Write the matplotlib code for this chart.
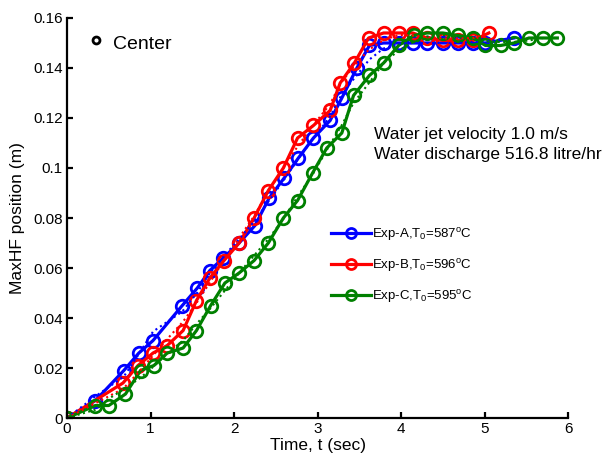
import numpy as np
import matplotlib
matplotlib.use("Agg")
import matplotlib.pyplot as plt

plt.rcParams['font.family'] = ['Liberation Sans', 'DejaVu Sans']
plt.rcParams['mathtext.fontset'] = 'custom'
plt.rcParams['mathtext.rm'] = 'Liberation Sans'
plt.rcParams['mathtext.it'] = 'Liberation Sans'

# Experiment A
t_a = [0, 0.34, 0.68, 0.86, 1.03, 1.38, 1.56, 1.71, 1.87, 2.06, 2.25, 2.42, 2.60,
       2.77, 2.95, 3.15, 3.29, 3.47, 3.62, 3.79, 3.97, 4.14, 4.31, 4.50, 4.68, 4.86,
       5.01, 5.35]
y_a = [0, 0.007, 0.019, 0.026, 0.031, 0.045, 0.052, 0.059, 0.064, 0.070, 0.077,
       0.088, 0.096, 0.104, 0.112, 0.119, 0.128, 0.140, 0.149, 0.150, 0.150, 0.150,
       0.150, 0.150, 0.150, 0.150, 0.150, 0.152]

# Experiment B
t_b = [0, 0.67, 0.85, 1.03, 1.20, 1.39, 1.55, 1.71, 1.88, 2.06, 2.24, 2.41, 2.59,
       2.76, 2.95, 3.15, 3.27, 3.44, 3.61, 3.79, 3.97, 4.14, 4.31, 4.50, 4.68, 4.86,
       5.05]
y_b = [0, 0.014, 0.021, 0.026, 0.029, 0.035, 0.047, 0.056, 0.063, 0.070, 0.080,
       0.091, 0.100, 0.112, 0.117, 0.123, 0.134, 0.142, 0.152, 0.154, 0.154, 0.154,
       0.152, 0.151, 0.151, 0.151, 0.154]

# Experiment C
t_c = [0, 0.34, 0.50, 0.70, 0.88, 1.04, 1.20, 1.39, 1.55, 1.72, 1.89, 2.06, 2.24,
       2.41, 2.59, 2.76, 2.94, 3.11, 3.29, 3.43, 3.62, 3.79, 3.97, 4.15, 4.31, 4.50,
       4.68, 4.86, 5.01, 5.19, 5.35, 5.53, 5.70, 5.87]
y_c = [0, 0.005, 0.005, 0.0096, 0.019, 0.021, 0.026, 0.028, 0.035, 0.045, 0.054,
       0.058, 0.063, 0.070, 0.080, 0.087, 0.098, 0.108, 0.114, 0.129, 0.137, 0.142,
       0.149, 0.153, 0.154, 0.154, 0.153, 0.152, 0.149, 0.149, 0.150, 0.152, 0.152,
       0.152]

labels = [r'Exp-A,T$_0$=587$^\mathrm{o}$C',
          r'Exp-B,T$_0$=596$^\mathrm{o}$C',
          r'Exp-C,T$_0$=595$^\mathrm{o}$C']
colors = ['#0000ff', '#ff0000', '#008000']


def smooth(y, k=2):
    """Centred running mean whose window narrows towards the ends."""
    y = np.asarray(y, float)
    n = len(y)
    out = np.empty(n)
    for i in range(n):
        h = min(k, i, n - 1 - i)
        out[i] = y[i - h:i + h + 1].mean()
    return out


fig = plt.figure(figsize=(6.06, 4.59), dpi=100)
ax = fig.add_axes([0.1106, 0.0893, 0.827, 0.8715])

series = [(t_a, y_a), (t_b, y_b), (t_c, y_c)]
for (t, y), c, lab in zip(series, colors, labels):
    ax.plot(t, y, '-o', color=c, lw=2.3, ms=9, mew=2.0, mfc='none', label=lab)
for (t, y), c in zip(series, colors):
    ax.plot(t, smooth(y), ':', color=c, lw=1.5)

ax.set_xlim(0, 6)
ax.set_ylim(0, 0.16)
ax.set_xticks(np.arange(0, 7, 1))
ax.set_yticks(np.arange(0, 0.161, 0.02))
ax.set_xticklabels(['0', '1', '2', '3', '4', '5', '6'])
ax.set_yticklabels(['0', '0.02', '0.04', '0.06', '0.08', '0.1', '0.12', '0.14', '0.16'])
for s in ['top', 'right']:
    ax.spines[s].set_visible(False)
for s in ['left', 'bottom']:
    ax.spines[s].set_linewidth(1.6)
ax.tick_params(direction='in', length=4, width=1.6, labelsize=11, pad=3)
ax.set_xlabel('Time, t (sec)', fontsize=12.5, labelpad=1)
ax.set_ylabel('MaxHF position (m)', fontsize=12.5, labelpad=6)

ax.plot([0.35], [0.151], 'o', color='k', ms=5, mew=2, mfc='none', clip_on=False)
ax.text(0.55, 0.1495, 'Center', fontsize=14, va='center')

ax.text(3.67, 0.1135, 'Water jet velocity 1.0 m/s', fontsize=12.5, va='center', clip_on=False)
ax.text(3.67, 0.1055, 'Water discharge 516.8 litre/hr', fontsize=12.5, va='center', clip_on=False)

ax.legend(loc='upper left', bbox_to_anchor=(0.527, 0.48), frameon=False, fontsize=9.5,
          handlelength=3.0, handletextpad=0.08, labelspacing=1.05, borderaxespad=0,
          borderpad=0, markerscale=0.8)

fig.savefig('out.png', dpi=100)
